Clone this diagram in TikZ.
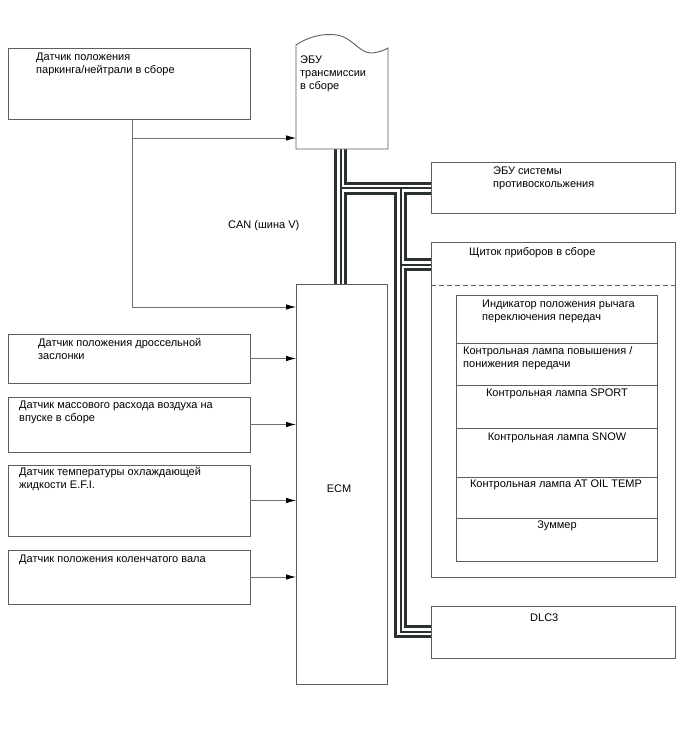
\documentclass[tikz,border=0pt]{standalone}
\usepackage{fontspec}
\setmainfont{Liberation Sans}
\usetikzlibrary{arrows.meta}
\pgfdeclarelayer{bg}
\pgfsetlayers{bg,main}
\definecolor{boxgray}{HTML}{5E5E5E}
\definecolor{linegray}{HTML}{707070}
\definecolor{busdark}{HTML}{2B312C}
\newcommand\mkbox[5]{\node[box,minimum width=#4pt,minimum height=#5pt] (#1) at (#2,#3) {};}
\begin{document}
\begin{tikzpicture}[x=1pt,y=-1pt,
  box/.style={draw=boxgray, line width=0.9pt, fill=white, inner sep=0pt, outer sep=0pt, anchor=north west},
  lbl/.style={inner sep=0pt, anchor=north west, align=left, font=\fontsize{11}{13}\selectfont},
  clbl/.style={inner sep=0pt, anchor=north, align=center, font=\fontsize{11}{13}\selectfont},
  conn/.style={draw=linegray, line width=0.8pt},
  feed/.style={conn, -{Latex[length=10pt,width=5.5pt,color=black]}},
  buswire/.style={line join=miter, line cap=butt},
  ]
\useasboundingbox (0,0) rectangle (688,755);

% boxes
\mkbox{pn}{8}{48}{242}{71}
\mkbox{tps}{8}{334}{242}{49}
\mkbox{maf}{8}{397}{242}{55}
\mkbox{ect}{8}{465}{242}{71}
\mkbox{ckp}{8}{550}{242}{54}
\mkbox{ecm}{296}{284}{91}{400}
\mkbox{abs}{431}{162}{244}{51}
\mkbox{cl}{431}{242}{244}{335}
\mkbox{dlc}{431}{606}{244}{52}
\mkbox{r1}{456}{295}{201}{48}
\mkbox{r2}{456}{343}{201}{42}
\mkbox{r3}{456}{385}{201}{43}
\mkbox{r4}{456}{428}{201}{49}
\mkbox{r5}{456}{477}{201}{41}
\mkbox{r6}{456}{518}{201}{43}

% transmission ECU (wavy top)
\node[inner sep=0pt, outer sep=0pt, anchor=north west, minimum width=92pt, minimum height=104pt] (tcu) at (296,45) {};
\draw[draw=boxgray, line width=0.9pt, fill=white] (296,149) -- (296,45)
  .. controls (308,37) and (322,33) .. (337,35)
  .. controls (352,37) and (360,54) .. (372,53)
  .. controls (380,52) and (385,50) .. (388,48) -- (388,149) -- cycle;

% dashed separator in cluster
\draw[draw=boxgray, line width=0.8pt, dash pattern=on 5pt off 3pt] (cl.west |- 0,285) -- (cl.east |- 0,285);

% labels
\node[lbl] (tpn) at (36,53) {Датчик положения\\паркинга/нейтрали в сборе};
\node[lbl] (ttcu) at (300,56) {ЭБУ\\трансмиссии\\в сборе};
\node[lbl] (tabs) at (493,167) {ЭБУ системы\\противоскольжения};
\node[lbl] (tcan) at (228,220) {CAN (шина V)};
\node[lbl] (tcl) at (469,247) {Щиток приборов в сборе};
\node[lbl] (ttps) at (38,338) {Датчик положения дроссельной\\заслонки};
\node[lbl] (tmaf) at (19,401) {Датчик массового расхода воздуха на\\впуске в сборе};
\node[lbl] (tect) at (19,467) {Датчик температуры охлаждающей\\жидкости E.F.I.};
\node[lbl] (tckp) at (19,555) {Датчик положения коленчатого вала};
\node[inner sep=0pt, font=\fontsize{11}{13}\selectfont] (tecm) at (339,489) {ECM};
\node[lbl] (tr1) at (482,300) {Индикатор положения рычага\\переключения передач};
\node[lbl] (tr2) at (463,346) {Контрольная лампа повышения /\\понижения передачи};
\node[clbl] (tr3) at (557,389) {Контрольная лампа SPORT};
\node[clbl] (tr4) at (557,433) {Контрольная лампа SNOW};
\node[clbl] (tr5) at (556,480) {Контрольная лампа AT OIL TEMP};
\node[clbl] (tr6) at (557,521) {Зуммер};
\node[lbl] (tdlc) at (530,614) {DLC3};

% signal lines
\coordinate (j1) at (132,138);
\coordinate (j2) at (132,307);
\draw[feed] (j1 |- pn.south) -- (j2) -- (j2 -| ecm.west);
\draw[feed] (j1) -- (j1 -| tcu.west);
\draw[feed] (tps.east) -- (tps.east -| ecm.west);
\draw[feed] (maf.east) -- (maf.east -| ecm.west);
\draw[feed] (ect.east) -- (ect.east -| ecm.west);
\draw[feed] (ckp.east) -- (ckp.east -| ecm.west);

% CAN bus
\coordinate (b0) at (340.5,149);
\coordinate (b1) at (340.5,188);
\coordinate (b2) at (400.5,188);
\coordinate (b3) at (400.5,264.5);
\coordinate (b4) at (400.5,631.5);
\begin{pgfonlayer}{bg}
\foreach \w/\c in {13/busdark,7/white,2/busdark}{
  \draw[buswire, line width=\w pt, draw=\c]
    (b0) -- (b0 |- ecm.north)
    (b1) -- (b1 -| abs.west)
    (b2) -- (b4) -- (b4 -| dlc.west)
    (b3) -- (b3 -| cl.west);
}
\end{pgfonlayer}
\end{tikzpicture}
\end{document}
